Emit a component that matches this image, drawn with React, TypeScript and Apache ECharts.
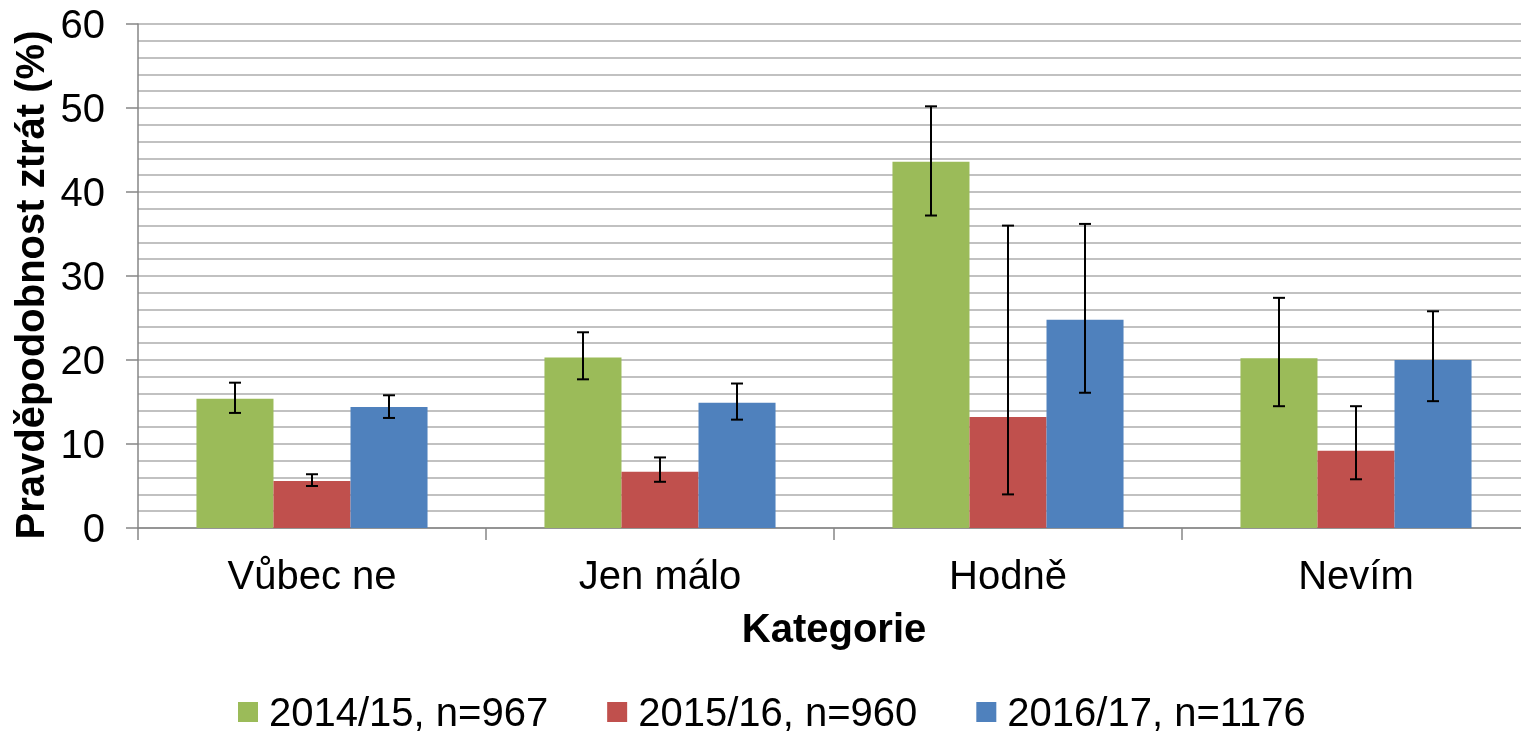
import React, { useEffect, useRef } from "react";
import * as echarts from "echarts";

const categories = ["Vůbec ne", "Jen málo", "Hodně", "Nevím"];
const seriesNames = ["2014/15, n=967", "2015/16, n=960", "2016/17, n=1176"];
const colors = ["#9BBB59", "#C0504D", "#4F81BD"];

const values2014 = [15.4, 20.3, 43.6, 20.2];
const values2015 = [5.6, 6.7, 13.2, 9.2];
const values2016 = [14.4, 14.9, 24.8, 20.0];

const low2014 = [13.7, 17.7, 37.2, 14.5];
const high2014 = [17.3, 23.3, 50.2, 27.4];
const low2015 = [5.0, 5.5, 4.0, 5.8];
const high2015 = [6.4, 8.4, 36.0, 14.5];
const low2016 = [13.1, 12.9, 16.1, 15.1];
const high2016 = [15.8, 17.2, 36.2, 25.8];

const yTicks = [0, 10, 20, 30, 40, 50, 60];

const FONT = "Liberation Sans, Arial, sans-serif";
const GAP = 0.336;

export default function App() {
  const ref = useRef<HTMLDivElement>(null);
  useEffect(() => {
    if (!ref.current) return;
    const chart = echarts.init(ref.current, undefined, { renderer: "svg" });
    const values = [values2014, values2015, values2016];
    const lows = [low2014, low2015, low2016];
    const highs = [high2014, high2015, high2016];

    const barSeries = values.map((v, i) => ({
      type: "bar",
      name: seriesNames[i],
      data: v,
      itemStyle: { color: colors[i] },
      barGap: "0%",
      barCategoryGap: GAP * 100 + "%",
      yAxisIndex: 0,
    }));

    const errSeries = values.map((_, i) => ({
      type: "custom",
      name: seriesNames[i] + " err",
      yAxisIndex: 0,
      z: 10,
      silent: true,
      data: categories.map((_, c) => [c, lows[i][c], highs[i][c]]),
      renderItem: (params: any, api: any) => {
        const c = api.value(0);
        const lo = api.coord([c, api.value(1)]);
        const hi = api.coord([c, api.value(2)]);
        const catW = api.size([1, 0])[0];
        const bw = (catW * (1 - GAP)) / 3;
        const x = lo[0] + (i - 1) * bw;
        const cap = 6;
        const style = { stroke: "#000", lineWidth: 2 };
        return {
          type: "group",
          children: [
            { type: "line", shape: { x1: x, y1: lo[1], x2: x, y2: hi[1] }, style },
            { type: "line", shape: { x1: x - cap, y1: lo[1], x2: x + cap, y2: lo[1] }, style },
            { type: "line", shape: { x1: x - cap, y1: hi[1], x2: x + cap, y2: hi[1] }, style },
          ],
        };
      },
    }));

    chart.setOption({
      animation: false,
      grid: { left: 138, top: 24, width: 1392, height: 504, outerBoundsMode: "none", containLabel: false },
      legend: {
        data: seriesNames,
        top: 692,
        left: 238,
        padding: 0,
        itemWidth: 20,
        itemHeight: 20,
        itemGap: 59,
        icon: "rect",
        textStyle: {
          fontFamily: FONT,
          fontSize: 40,
          lineHeight: 36,
          color: "#000",
          padding: [0, 0, 0, 6],
        },
      },
      xAxis: {
        type: "category",
        data: categories,
        name: "Kategorie",
        nameLocation: "middle",
        nameGap: 80,
        nameTextStyle: { fontFamily: FONT, fontSize: 40, fontWeight: "bold", color: "#000" },
        axisLine: { lineStyle: { color: "#868686", width: 1.5 } },
        axisTick: { show: true, length: 12, lineStyle: { color: "#868686", width: 1.5 } },
        axisLabel: { fontFamily: FONT, fontSize: 40, color: "#000", margin: 27 },
      },
      yAxis: [
        {
          type: "value",
          min: 0,
          max: 60,
          interval: 10,
          name: "Pravděpodobnost ztrát (%)",
          nameLocation: "middle",
          nameGap: 88,
          nameTextStyle: {
            fontFamily: FONT,
            fontSize: 40,
            fontWeight: "bold",
            color: "#000",
            padding: [0, 18, 0, 0],
          },
          axisLine: { show: true, lineStyle: { color: "#868686", width: 1.5 } },
          axisTick: { show: true, length: 12, lineStyle: { color: "#868686", width: 1.5 } },
          axisLabel: {
            fontFamily: FONT,
            fontSize: 40,
            color: "#000",
            margin: 33,
            formatter: (v: number) => (yTicks.includes(v) ? String(v) : ""),
          },
          splitLine: { show: false },
        },
        {
          type: "value",
          min: 0,
          max: 60,
          interval: 2,
          position: "left",
          axisLine: { show: false },
          axisTick: { show: false },
          axisLabel: { show: false },
          splitLine: { show: true, lineStyle: { color: "#adadad", width: 1.5 } },
        },
      ],
      series: [...barSeries, ...errSeries],
    });
    return () => chart.dispose();
  }, []);
  return (
    <div
      ref={ref}
      style={{ position: "fixed", left: 0, top: 0, width: 1521, height: 733 }}
    />
  );
}
